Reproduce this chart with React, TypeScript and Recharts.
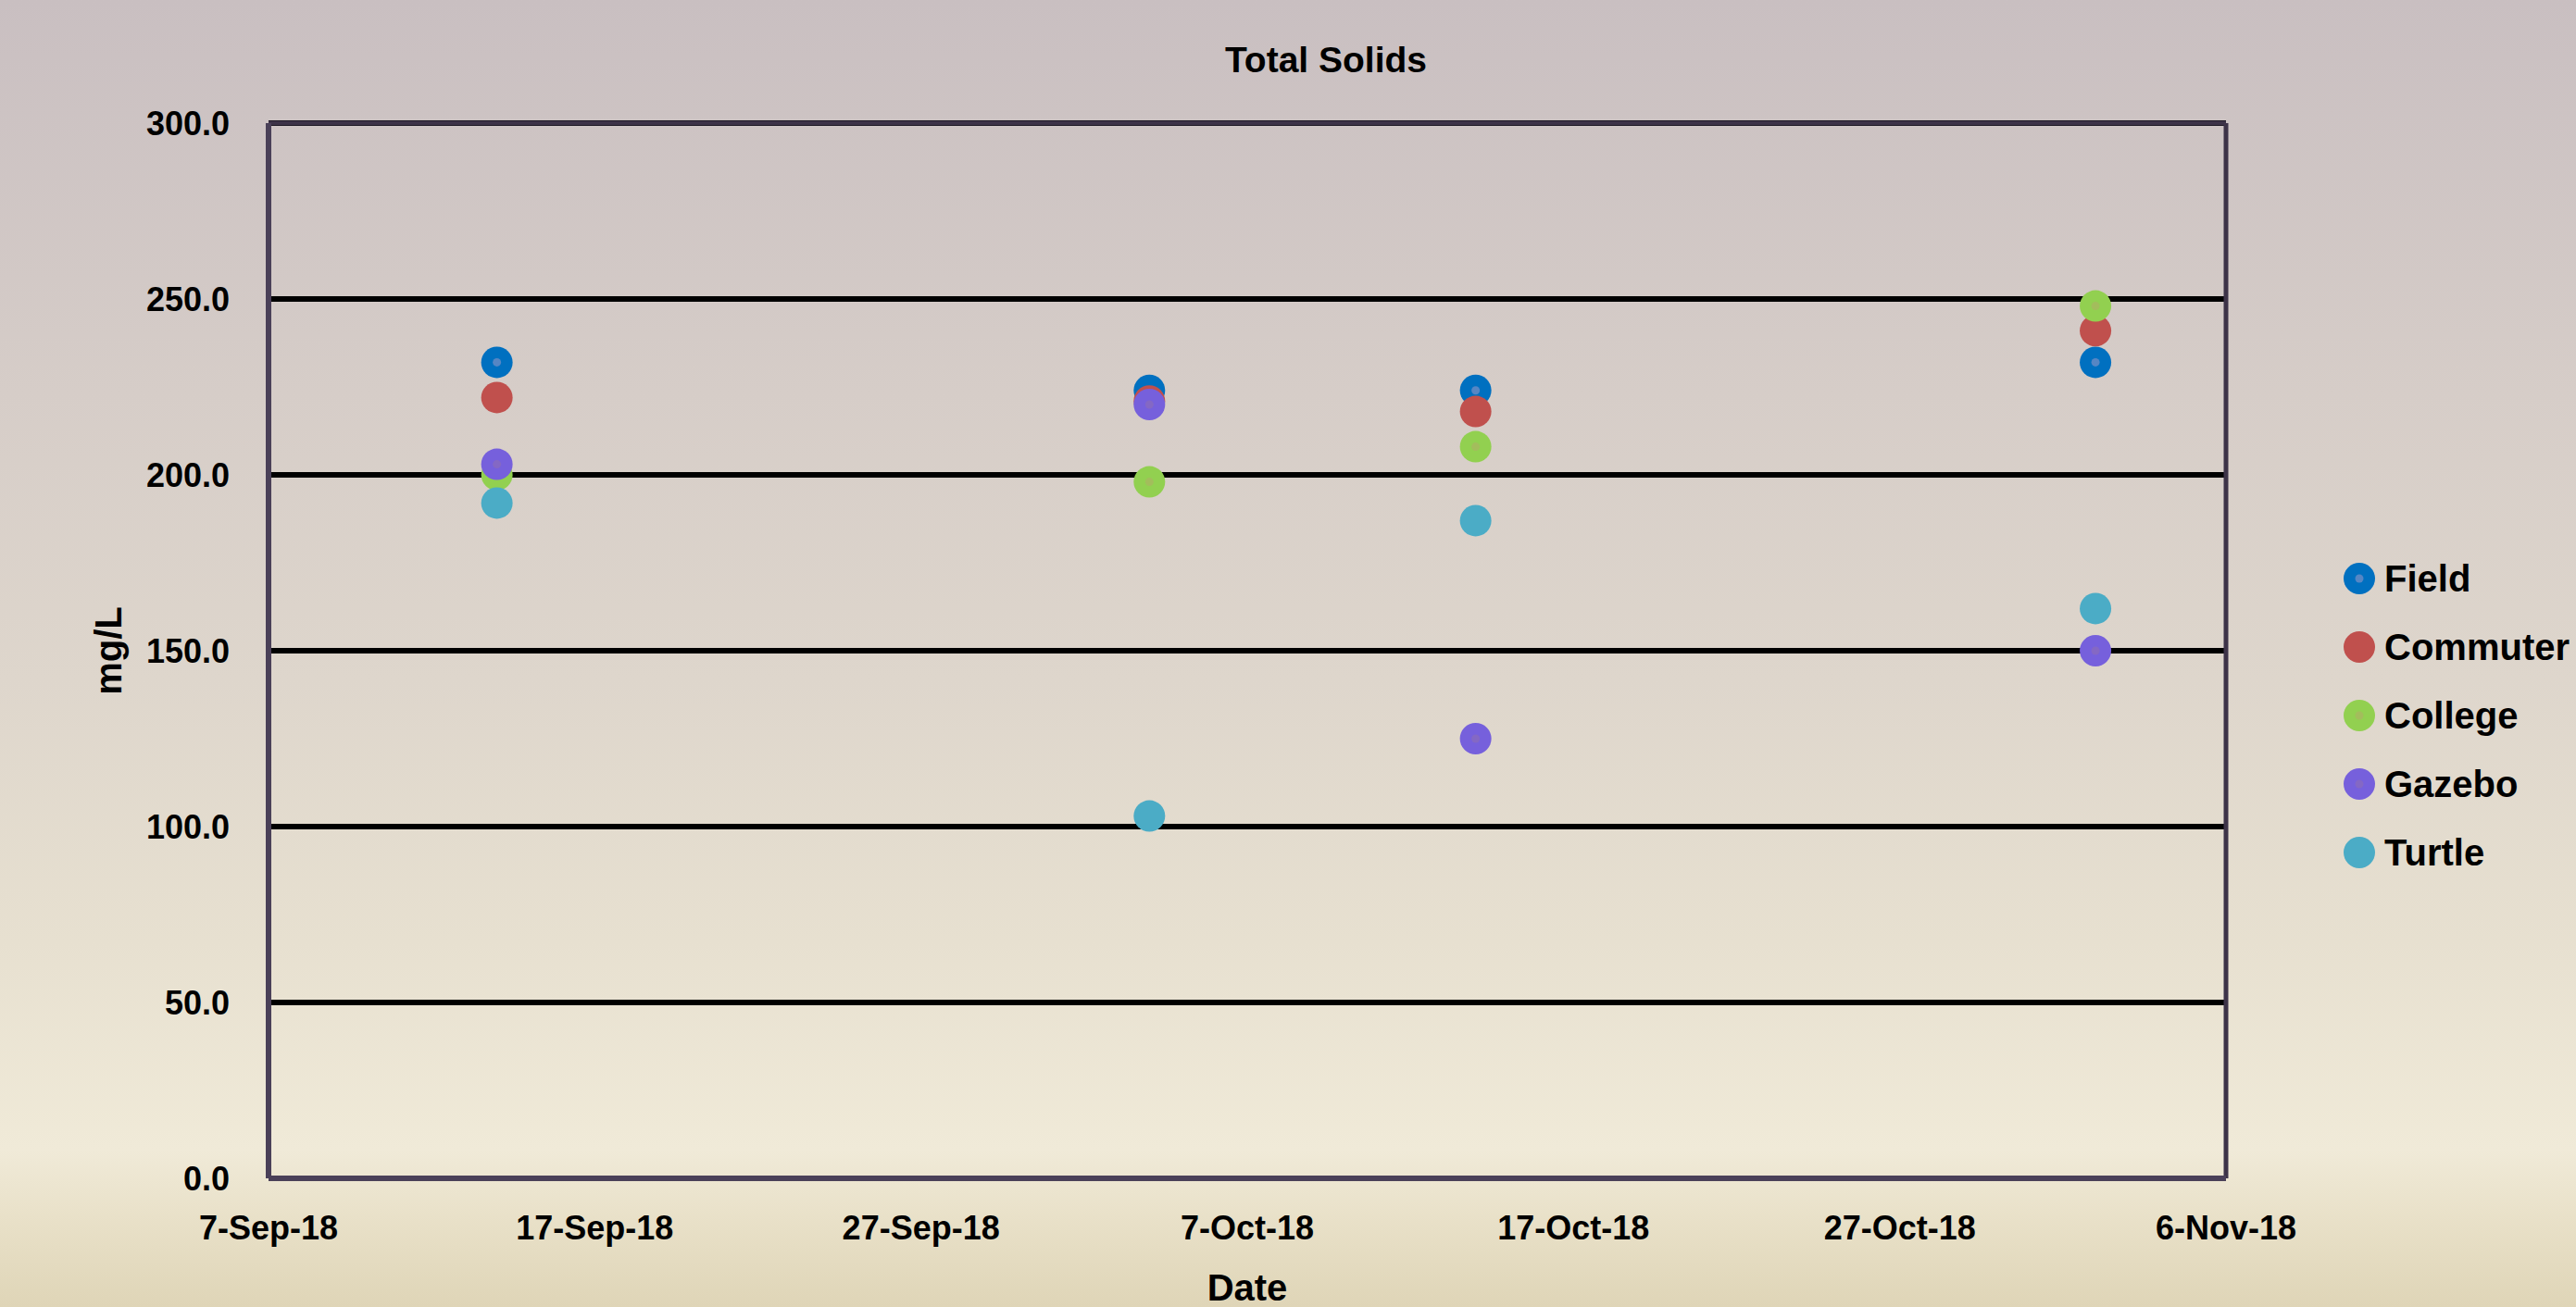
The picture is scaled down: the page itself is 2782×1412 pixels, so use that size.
import { ScatterChart, Scatter, XAxis, YAxis, CartesianGrid, ReferenceLine } from 'recharts';

const SAMPLE_DATES = ['2018-09-14', '2018-10-04', '2018-10-14', '2018-11-02'];
const FIELD = [232, 224, 224, 232];
const COMMUTER = [222, 221, 218, 241];
const COLLEGE = [200, 198, 208, 248];
const GAZEBO = [203, 220, 125, 150];
const TURTLE = [192, 103, 187, 162];

const X_TICKS = ['2018-09-07', '2018-09-17', '2018-09-27', '2018-10-07', '2018-10-17', '2018-10-27', '2018-11-06'];
const Y_TICKS = [0, 50, 100, 150, 200, 250, 300];

const MONTHS = ['Jan', 'Feb', 'Mar', 'Apr', 'May', 'Jun', 'Jul', 'Aug', 'Sep', 'Oct', 'Nov', 'Dec'];
const FONT = '"Liberation Sans", Arial, sans-serif';

const toMs = (s: string) => Date.parse(s + 'T00:00:00Z');
const fmtDate = (ms: number) => {
  const d = new Date(ms);
  return `${d.getUTCDate()}-${MONTHS[d.getUTCMonth()]}-${String(d.getUTCFullYear()).slice(2)}`;
};

const SERIES = [
  { name: 'Field', values: FIELD, color: '#0070C0', dot: '#5686C4' },
  { name: 'Commuter', values: COMMUTER, color: '#C0504D', dot: null },
  { name: 'College', values: COLLEGE, color: '#92D050', dot: '#A3BD5C' },
  { name: 'Gazebo', values: GAZEBO, color: '#7660DC', dot: '#8468C4' },
  { name: 'Turtle', values: TURTLE, color: '#4BACC6', dot: null },
];

const xTicks = X_TICKS.map(toMs);
const xStart = xTicks[0];
const xEnd = xTicks[xTicks.length - 1];

function marker(color: string, dot: string | null) {
  return (props: any) => (
    <g>
      <circle cx={props.cx} cy={props.cy} r={17} fill={color} />
      {dot && <circle cx={props.cx} cy={props.cy} r={4.5} fill={dot} />}
    </g>
  );
}

export default function App() {
  const tickStyle = { fontFamily: FONT, fontWeight: 700, fontSize: 36, fill: '#000' };

  return (
    <div
      style={{
        position: 'relative',
        width: 2782,
        height: 1412,
        overflow: 'hidden',
        background: 'linear-gradient(to bottom, #C9BFC1 0%, #D6CDC8 30%, #DED6CC 52%, #E7E0D0 72%, #F0EAD8 88%, #E9E1C9 93%, #DFD5B7 100%)',
        fontFamily: FONT,
      }}
    >
      <style>{'body{margin:0}'}</style>
      <div
        style={{
          position: 'absolute',
          left: 1232,
          width: 400,
          top: 45,
          textAlign: 'center',
          fontSize: 39,
          lineHeight: '39px',
          fontWeight: 700,
          color: '#000',
        }}
      >
        Total Solids
      </div>

      <ScatterChart width={2782} height={1412} margin={{ top: 133, right: 378, bottom: 0, left: 0 }}>
        <CartesianGrid vertical={false} stroke="#000" strokeWidth={6} />
        <XAxis
          type="number"
          dataKey="x"
          domain={[xStart, xEnd]}
          ticks={xTicks}
          tickFormatter={fmtDate}
          height={139}
          tickLine={false}
          tickSize={0}
          tickMargin={40}
          axisLine={{ stroke: '#4A4058', strokeWidth: 6 }}
          tick={tickStyle}
          label={{ value: 'Date', position: 'insideBottom', offset: 7, style: { fontFamily: FONT, fontWeight: 700, fontSize: 40, fill: '#000' } }}
        />
        <YAxis
          type="number"
          dataKey="y"
          domain={[0, 300]}
          ticks={Y_TICKS}
          tickFormatter={(v: number) => v.toFixed(1)}
          width={290}
          tickLine={false}
          tickSize={0}
          tickMargin={42}
          axisLine={{ stroke: '#4A4058', strokeWidth: 6 }}
          tick={tickStyle}
          label={{
            value: 'mg/L',
            angle: -90,
            position: 'insideLeft',
            offset: 117,
            style: { textAnchor: 'middle', fontFamily: FONT, fontWeight: 700, fontSize: 40, fill: '#000' },
          }}
        />
        <ReferenceLine y={300} stroke="#3D3348" strokeWidth={5} />
        <ReferenceLine x={xEnd} stroke="#3D3348" strokeWidth={5} />
        {SERIES.map((s) => (
          <Scatter
            key={s.name}
            name={s.name}
            data={SAMPLE_DATES.map((d, i) => ({ x: toMs(d), y: s.values[i] }))}
            fill={s.color}
            shape={marker(s.color, s.dot)}
            isAnimationActive={false}
          />
        ))}
      </ScatterChart>

      <div style={{ position: 'absolute', left: 2531, top: 588 }}>
        {SERIES.map((s) => (
          <div key={s.name} style={{ display: 'flex', alignItems: 'center', height: 74, whiteSpace: 'nowrap' }}>
            <svg width={34} height={34} style={{ flex: 'none' }}>
              <circle cx={17} cy={17} r={17} fill={s.color} />
              {s.dot && <circle cx={17} cy={17} r={4.5} fill={s.dot} />}
            </svg>
            <span style={{ marginLeft: 10, fontSize: 40, fontWeight: 700, color: '#000' }}>{s.name}</span>
          </div>
        ))}
      </div>
    </div>
  );
}
